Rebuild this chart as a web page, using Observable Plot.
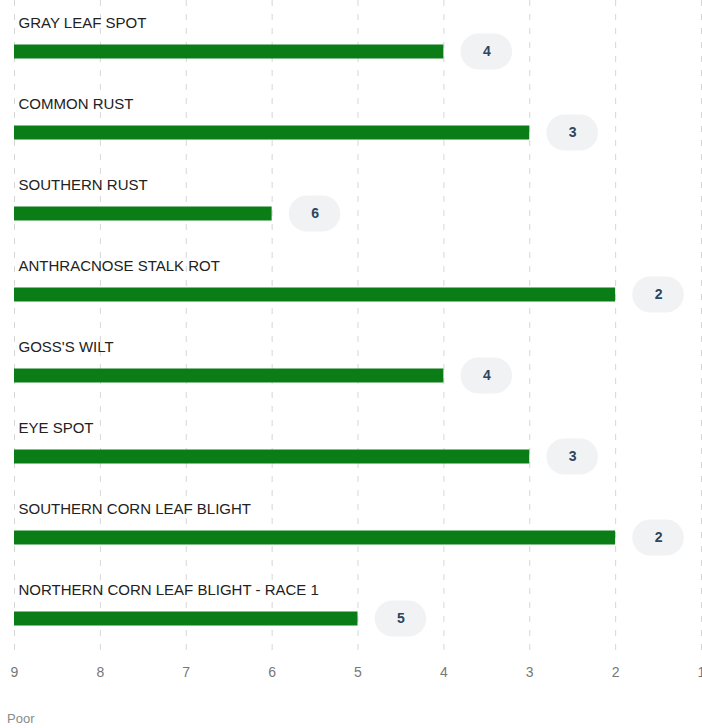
<!DOCTYPE html>
<html>
<head>
<meta charset="utf-8">
<script src="https://cdn.jsdelivr.net/npm/d3@7"></script>
<script src="https://cdn.jsdelivr.net/npm/@observablehq/plot@0.6"></script>
<style>
  body { margin: 0; background: #fff; font-family: "Liberation Sans", Arial, sans-serif; }
  #caption { font-size: 13px; color: #8a8a8a; padding: 11px 0 0 7px; line-height: 16px; }
</style>
</head>
<body>
<div id="chart"></div>
<div id="caption">Poor</div>
<script>
const diseases = [
  "GRAY LEAF SPOT",
  "COMMON RUST",
  "SOUTHERN RUST",
  "ANTHRACNOSE STALK ROT",
  "GOSS'S WILT",
  "EYE SPOT",
  "SOUTHERN CORN LEAF BLIGHT",
  "NORTHERN CORN LEAF BLIGHT - RACE 1"
];
const ratings = [4, 3, 6, 2, 4, 3, 2, 5];
const tickValues = [9, 8, 7, 6, 5, 4, 3, 2, 1];

const data = diseases.map((name, i) => ({name, value: ratings[i]}));

const chart = Plot.plot({
  width: 702,
  height: 700,
  marginTop: 0,
  marginLeft: 14,
  marginRight: 1,
  marginBottom: 48,
  style: {fontFamily: "'Liberation Sans', Arial, sans-serif", background: "#fff", overflow: "visible"},
  x: {domain: [9, 1], range: [14, 701], label: null},
  y: {type: "band", domain: diseases, range: [10.5, 658.5], padding: 0, axis: null},
  marks: [
    Plot.gridX(tickValues, {stroke: "#d6d6d6", strokeOpacity: 1, strokeDasharray: "6,8"}),
    Plot.barX(data, {x1: 9, x2: "value", y: "name", fill: "#0a7d16", insetTop: 33.5, insetBottom: 33.5}),
    Plot.barX(data, {x1: d => d.value - 0.8, x2: d => d.value - 0.2, y: "name", fill: "#f1f2f4", insetTop: 22.5, insetBottom: 22.5, rx: 18}),
    Plot.text(data, {x: d => d.value - 0.5, y: "name", text: d => String(d.value), fill: "#2a4660", fontWeight: "bold", fontSize: 14}),
    Plot.text(data, {x: 9, y: "name", text: "name", dx: 4, dy: -29, textAnchor: "start", fill: "#222", fontSize: 15}),
    Plot.axisX(tickValues, {anchor: "bottom", label: null, tickSize: 0, tickPadding: 15, fontSize: 14, color: "#777", tickFormat: d => String(d)})
  ]
});
document.getElementById("chart").appendChild(chart);
</script>
</body>
</html>
